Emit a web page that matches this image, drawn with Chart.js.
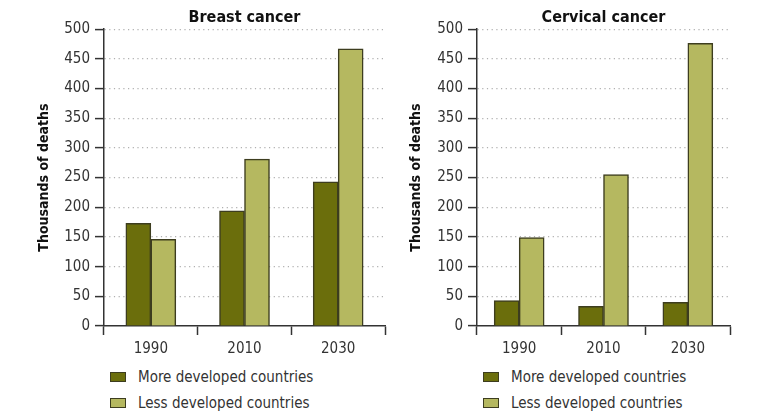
<!DOCTYPE html>
<html lang="en">
<head>
    <meta charset="UTF-8">
    <title>Cancer deaths</title>
    <script src="https://cdn.jsdelivr.net/npm/chart.js"></script>
    <style>
        body { margin: 0; background: #fff; }
        #wrap { position: relative; width: 771px; height: 416px; overflow: hidden; }
        canvas { position: absolute; top: 0; }
        .legend { position: absolute; font-family: 'DejaVu Sans Condensed', sans-serif; font-size: 15px; color: #333; }
        .legend div { height: 26px; line-height: 26px; white-space: nowrap; }
        .legend span { display: inline-block; width: 14px; height: 8px; border: 1px solid #3d3d1f; margin-right: 12px; vertical-align: middle; position: relative; top: -1px; }
    </style>
</head>
<body>
    <div id="wrap">
        <canvas id="breast" width="390" height="363" style="left:0"></canvas>
        <canvas id="cervical" width="381" height="363" style="left:390px"></canvas>
        <div class="legend" style="left:110px; top:364px">
            <div><span style="background:#6b6e0c"></span>More developed countries</div>
            <div><span style="background:#b5b860"></span>Less developed countries</div>
        </div>
        <div class="legend" style="left:483px; top:364px">
            <div><span style="background:#6b6e0c"></span>More developed countries</div>
            <div><span style="background:#b5b860"></span>Less developed countries</div>
        </div>
    </div>
<script>
    const years = ['1990', '2010', '2030'];
    const seriesNames = ['More developed countries', 'Less developed countries'];

    const breastMore = [173, 194, 243];
    const breastLess = [146, 281, 467];

    const cervicalMore = [43, 33, 40];
    const cervicalLess = [149, 255, 476];

    const yTicks = [0, 50, 100, 150, 200, 250, 300, 350, 400, 450, 500];

    const fam = "'DejaVu Sans Condensed', sans-serif";
    const dark = '#6b6e0c';
    const light = '#b5b860';
    const edge = '#3d3d1f';

    function makeChart(id, title, more, less, axisWidth, titlePad, padRight) {
        return new Chart(document.getElementById(id), {
            type: 'bar',
            data: {
                labels: years,
                datasets: [
                    { label: seriesNames[0], data: more, backgroundColor: dark, borderColor: edge, borderWidth: 1.5, barThickness: 25 },
                    { label: seriesNames[1], data: less, backgroundColor: light, borderColor: edge, borderWidth: 1.5, barThickness: 25 }
                ]
            },
            options: {
                responsive: false,
                animation: false,
                layout: { padding: { left: 0, right: padRight, top: 0, bottom: 0 } },
                plugins: {
                    legend: { display: false },
                    tooltip: { enabled: false },
                    title: {
                        display: true,
                        text: title,
                        fullSize: false,
                        color: '#111',
                        font: { family: fam, size: 16, weight: 'bold' },
                        padding: { top: 8, bottom: 2 }
                    }
                },
                scales: {
                    x: {
                        grid: {
                            offset: true,
                            drawOnChartArea: false,
                            tickLength: 9,
                            tickColor: '#333',
                            tickWidth: 1.5
                        },
                        border: { color: '#333', width: 1.5 },
                        ticks: { color: '#333', padding: 5, font: { family: fam, size: 15 } }
                    },
                    y: {
                        min: 0,
                        max: 500,
                        afterBuildTicks: s => { s.ticks = yTicks.map(v => ({ value: v })); },
                        afterFit: s => { s.width = axisWidth; },
                        grid: {
                            color: c => (c.tick && c.tick.value === 0) ? 'rgba(0,0,0,0)' : '#b0b0b0',
                            lineWidth: 1.2,
                            tickLength: 9,
                            tickColor: '#333',
                            tickWidth: 1.5,
                            tickBorderDash: []
                        },
                        border: { color: '#333', width: 1.5, dash: [1.2, 3.5] },
                        ticks: { color: '#333', padding: 5, font: { family: fam, size: 15 } },
                        title: {
                            display: true,
                            text: 'Thousands of deaths',
                            color: '#111',
                            font: { family: fam, size: 14, weight: 'bold' },
                            padding: { top: titlePad, bottom: 0 }
                        }
                    }
                }
            }
        });
    }

    makeChart('breast', 'Breast cancer', breastMore, breastLess, 104, 36, 5);
    makeChart('cervical', 'Cervical cancer', cervicalMore, cervicalLess, 87, 18, 41);
</script>
</body>
</html>
